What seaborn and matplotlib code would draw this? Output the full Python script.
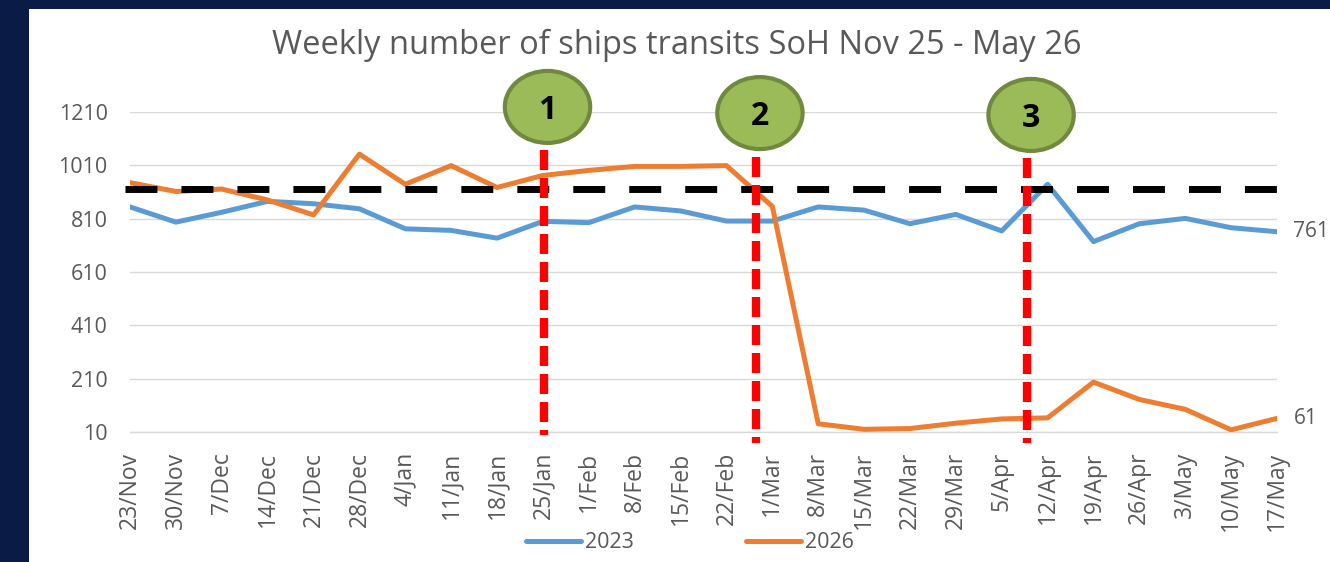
import numpy as np
import pandas as pd
import matplotlib
matplotlib.use("Agg")
import matplotlib.pyplot as plt
from matplotlib.patches import Ellipse, Rectangle
import seaborn as sns

weeks = ['23/Nov', '30/Nov', '7/Dec', '14/Dec', '21/Dec', '28/Dec', '4/Jan', '11/Jan',
         '18/Jan', '25/Jan', '1/Feb', '8/Feb', '15/Feb', '22/Feb', '1/Mar', '8/Mar',
         '15/Mar', '22/Mar', '29/Mar', '5/Apr', '12/Apr', '19/Apr', '26/Apr', '3/May',
         '10/May', '17/May']
ships_2023 = [854, 797, 834, 875, 866, 847, 772, 766, 737, 800, 795, 854, 839, 801,
              801, 854, 842, 791, 826, 764, 939, 724, 791, 811, 776, 761]
ships_2026 = [945, 912, 921, 880, 824, 1052, 939, 1009, 927, 972, 991, 1006, 1006, 1009,
              856, 41, 20, 23, 43, 59, 63, 197, 132, 95, 18, 61]
avg_level = 922
events = ['1', '2', '3']
event_x = [9.02, 13.65, 19.56]
yticks = [10, 210, 410, 610, 810, 1010, 1210]

BLUE = '#5B9BD5'
ORANGE = '#ED7D31'
GREY_TXT = '#595959'
GRID = '#D9D9D9'
NAVY = '#0A1C45'

sns.set_style('white')
plt.rcParams['font.family'] = ['Open Sans', 'DejaVu Sans']

df = pd.DataFrame({
    'week': list(range(len(weeks))) * 2,
    'ships': ships_2023 + ships_2026,
    'year': ['2023'] * len(weeks) + ['2026'] * len(weeks),
})

fig = plt.figure(figsize=(13.3, 5.62), dpi=100)
fig.patch.set_facecolor(NAVY)
fig.patches.append(Rectangle((29 / 1330, 0), 1, 1 - 9 / 562, transform=fig.transFigure,
                             facecolor='white', edgecolor='none', zorder=-5))

ax = fig.add_axes([130 / 1330, 1 - 432 / 562, 1147 / 1330, 320 / 562])
ax.set_facecolor('none')

sns.lineplot(data=df, x='week', y='ships', hue='year', palette=[BLUE, ORANGE],
             linewidth=3.6, ax=ax, zorder=3)
for ln in ax.get_lines():
    ln.set_solid_joinstyle('round')
    ln.set_solid_capstyle('round')

# average level
ax.plot([-0.11, 25.02], [avg_level, avg_level], color='black', lw=5,
        dashes=(4.6, 3.46), clip_on=False, zorder=4)

# event markers
ell_y = [1229, 1206, 1199]
top_y = [1067, 1041, 1037]
for lab, ex, ey, ty in zip(events, event_x, ell_y, top_y):
    ax.plot([ex, ex], [ty, -30 if lab != '1' else -1], color='#FF0000', lw=6,
            dashes=(2.4, 0.96), clip_on=False, zorder=5)
    ax.add_patch(Ellipse((ex + 0.08, ey), width=1.86, height=270, facecolor='#9BBB59',
                         edgecolor='#71893F', lw=3, clip_on=False, zorder=6))
    ax.text(ex + 0.08, ey - 12, lab, ha='center', va='center', fontsize=23,
            fontweight='bold', color='black', zorder=7)

ax.set_xlim(0, 25)
ax.set_ylim(10, 1210)
ax.set_yticks(yticks)
ax.set_xticks(range(len(weeks)))
ax.set_xticklabels(weeks, rotation=90, fontsize=16.5, color=GREY_TXT)
ax.tick_params(axis='y', length=0, pad=16, labelsize=15.5, labelcolor=GREY_TXT)
ax.tick_params(axis='x', length=4.3, width=1, color=GRID, direction='out', pad=10)
ax.yaxis.grid(True, color=GRID, lw=1)
ax.set_axisbelow(True)
for s in ['top', 'right', 'left']:
    ax.spines[s].set_visible(False)
ax.spines['bottom'].set_color(GRID)
ax.spines['bottom'].set_linewidth(1)
ax.set_xlabel('')
ax.set_ylabel('')

# end labels
ax.annotate(str(ships_2023[-1]), xy=(25, ships_2023[-1]), xytext=(11.5, 0),
            textcoords='offset points', va='center', ha='left', fontsize=15,
            color=GREY_TXT, annotation_clip=False)
ax.annotate(str(ships_2026[-1]), xy=(25, ships_2026[-1]), xytext=(12.5, 0),
            textcoords='offset points', va='center', ha='left', fontsize=15,
            color=GREY_TXT, annotation_clip=False)

handles, labels = ax.get_legend_handles_labels()
ax.legend(handles, labels, loc='center', bbox_to_anchor=(690 / 1330, 1 - 543 / 562),
          bbox_transform=fig.transFigure, ncol=2, frameon=False, fontsize=15.5,
          handlelength=2.56, handletextpad=0.19, columnspacing=5.2, labelcolor=GREY_TXT)

fig.text(677 / 1330, 1 - 45 / 562, 'Weekly number of ships transits SoH Nov 25 - May 26',
         ha='center', va='center', fontsize=23.5, color=GREY_TXT)

fig.savefig('out.png', dpi=100, facecolor=fig.get_facecolor())
